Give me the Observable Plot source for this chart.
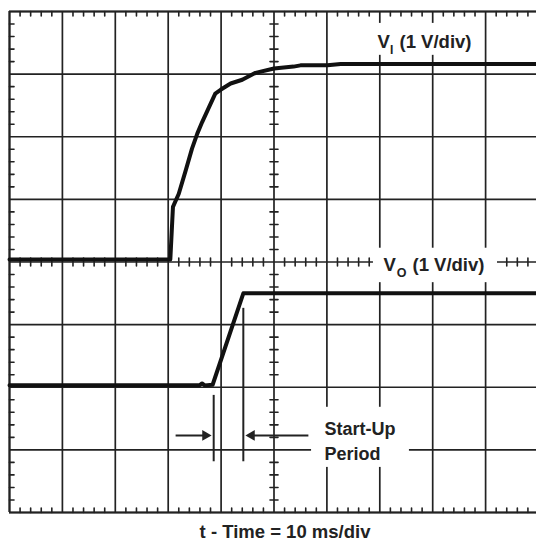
<!DOCTYPE html>
<html><head><meta charset="utf-8">
<script src="https://cdn.jsdelivr.net/npm/d3@7"></script>
<script src="https://cdn.jsdelivr.net/npm/@observablehq/plot@0.6"></script>
<style>
html,body{margin:0;padding:0;background:#fff;overflow:hidden;}
#chart svg{display:block;}
</style></head><body><div id="chart"></div>
<script>
// Time in ms (10 ms/div); trace levels in screen divisions (1 V/div)
const viTime  = [0, 30.4, 30.9, 32.0, 33.3, 34.5, 35.5, 36.4, 37.7, 38.9, 39.9, 41.8, 44.0, 46.5, 50.0, 53.7, 55.0, 60.1, 62.6, 100];
const viLevel = [4.04, 4.04, 4.88, 5.09, 5.46, 5.81, 6.05, 6.23, 6.47, 6.69, 6.75, 6.85, 6.91, 7.02, 7.09, 7.12, 7.14, 7.14, 7.16, 7.16];
const voTime  = [0, 35.9, 36.4, 36.9, 38.4, 44.2, 100];
const voLevel = [2.03, 2.03, 2.06, 2.03, 2.04, 3.50, 3.50];
const startUpTimes = [38.6, 44.2];
const xTicks = d3.range(0, 101, 10);
const yTicks = d3.range(0, 9, 1);
const labelVI = ["V", "I", "(1 V/div)"];
const labelVO = ["V", "O", "(1 V/div)"];
const labelStart = ["Start-Up", "Period"];
const xTitle = "t - Time = 10 ms/div";

const xMinor = d3.range(1, 50).filter(i => i % 5).map(i => i * 2);
const yMinor = d3.range(1, 40).filter(i => i % 5).map(i => i / 5);
const vi = viTime.map((t, i) => ({t, v: viLevel[i]}));
const vo = voTime.map((t, i) => ({t, v: voLevel[i]}));
const tickShape = {draw(ctx, l) { ctx.moveTo(0, 0); ctx.lineTo(0, -l); }};
const ink = "#222";
const font = {fontFamily: "'Liberation Sans', Arial, sans-serif", fontWeight: "bold", fill: ink, lineAnchor: "bottom", textAnchor: "start"};
const T = (s, x, y, o = {}) => Plot.text([s], {x, y, text: d => d, fontSize: 18.5, ...font, ...o});

const chart = Plot.plot({
  width: 536, height: 546,
  marginTop: 11, marginBottom: 34, marginLeft: 9, marginRight: 0,
  x: {domain: [0, 100], range: [9, 538], axis: null},
  y: {domain: [0, 8], range: [512, 11], axis: null},
  style: {background: "#fff", color: ink},
  marks: [
    Plot.ruleX(xTicks, {stroke: ink, strokeWidth: 1.7}),
    Plot.ruleY(yTicks, {stroke: ink, strokeWidth: 1.7}),
    Plot.ruleY([0, 8], {stroke: ink, strokeWidth: 2}),
    Plot.ruleX([0], {stroke: ink, strokeWidth: 2}),
    // minor ticks on borders
    Plot.vector(xMinor, {x: d => d, y: 8, length: 4.5, rotate: 180, anchor: "start", shape: tickShape, stroke: ink, strokeWidth: 1.6}),
    Plot.vector(xMinor, {x: d => d, y: 0, length: 4.5, rotate: 0, anchor: "start", shape: tickShape, stroke: ink, strokeWidth: 1.6}),
    Plot.vector(yMinor, {x: 0, y: d => d, length: 4.5, rotate: 90, anchor: "start", shape: tickShape, stroke: ink, strokeWidth: 1.6}),
    // minor ticks on centre lines
    Plot.vector(yMinor, {x: 50, y: d => d, length: 8, rotate: 90, anchor: "middle", shape: tickShape, stroke: ink, strokeWidth: 1.6}),
    Plot.vector(xMinor, {x: d => d, y: 4, length: 8, rotate: 0, anchor: "middle", shape: tickShape, stroke: ink, strokeWidth: 1.6}),
    // white label backgrounds
    Plot.rect([0], {x1: 67.7, x2: 89.0, y1: 7.30, y2: 7.81, fill: "#fff"}),
    Plot.rect([0], {x1: 68.8, x2: 92.25, y1: 3.67, y2: 4.22, fill: "#fff"}),
    Plot.rect([0], {x1: 57.1, x2: 75.6, y1: 0.72, y2: 1.68, fill: "#fff"}),
    // traces
    Plot.line(vi, {x: "t", y: "v", stroke: "#111", strokeWidth: 4, strokeLinejoin: "round"}),
    Plot.line(vo, {x: "t", y: "v", stroke: "#111", strokeWidth: 4, strokeLinejoin: "round"}),
    // start-up markers
    Plot.ruleX([{x: startUpTimes[0], y1: 0.81, y2: 1.87}, {x: startUpTimes[1], y1: 0.81, y2: 3.26}], {x: "x", y1: "y1", y2: "y2", stroke: ink, strokeWidth: 2}),
    Plot.link([0], {x1: 31.4, x2: 37.5, y1: 1.23, y2: 1.23, stroke: ink, strokeWidth: 2}),
    Plot.link([0], {x1: 45.2, x2: 56.5, y1: 1.23, y2: 1.23, stroke: ink, strokeWidth: 2}),
    Plot.dot([0], {x: startUpTimes[0] - 0.4, y: 1.23, symbol: "triangle", r: 4, rotate: 90, dx: -6.2, fill: ink}),
    Plot.dot([0], {x: startUpTimes[1] + 0.4, y: 1.23, symbol: "triangle", r: 4, rotate: -90, dx: 6.2, fill: ink}),
    // labels
    T(labelVI[0], 69.57, 7.41),
    T(labelVI[1], 69.57, 7.41, {dx: 12.5, dy: 6, fontSize: 12}),
    T(labelVI[2], 69.57, 7.41, {dx: 22}),
    T(labelVO[0], 70.7, 3.864),
    T(labelVO[1], 70.7, 3.864, {dx: 13.3, dy: 6, fontSize: 12.5}),
    T(labelVO[2], 70.7, 3.864, {dx: 29}),
    T(labelStart[0], 59.55, 1.23, {fontSize: 18}),
    T(labelStart[1], 59.55, 0.846, {fontSize: 18}),
    T(xTitle, 52.08, -0.415, {textAnchor: "middle"})
  ]
});
document.getElementById("chart").append(chart);
</script></body></html>
